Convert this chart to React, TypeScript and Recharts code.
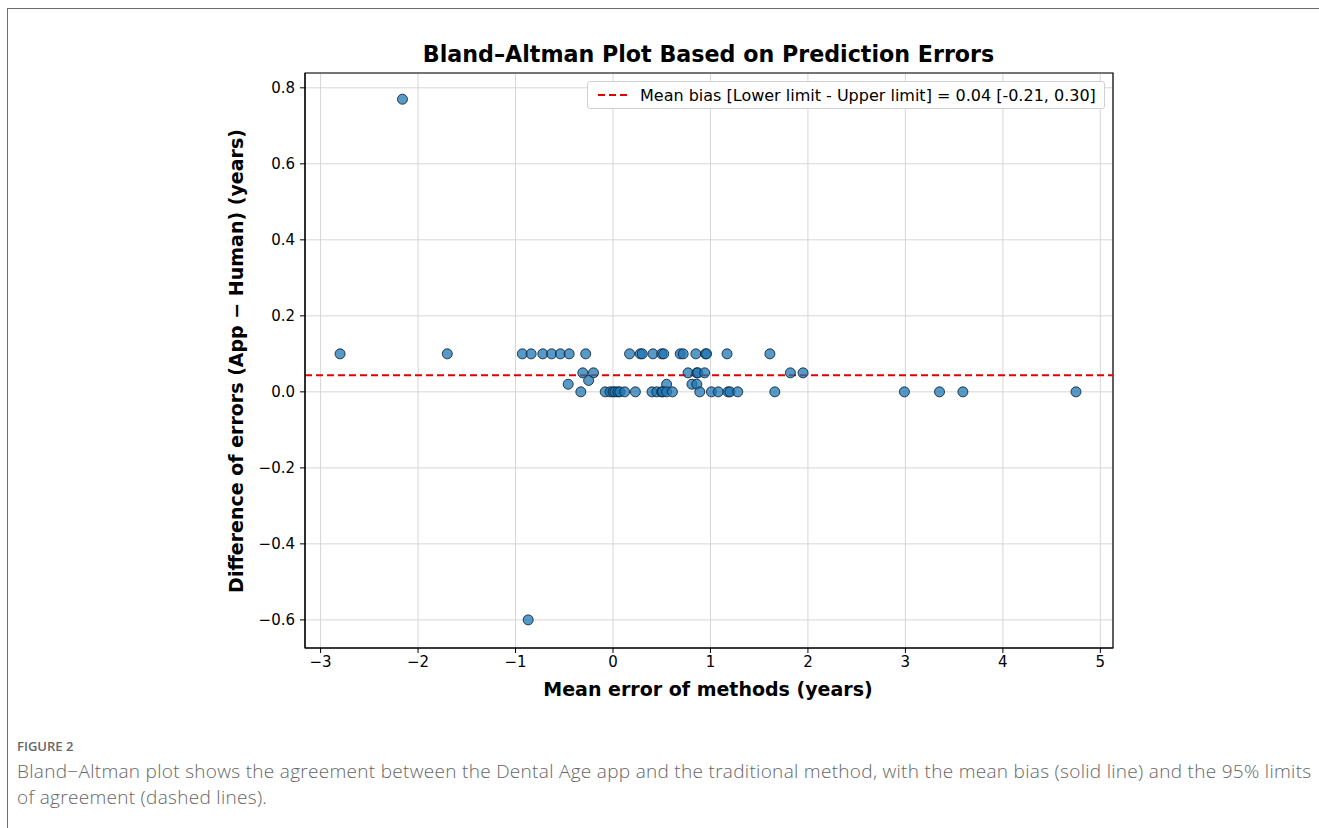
import React from "react";
import {
  ScatterChart,
  Scatter,
  XAxis,
  YAxis,
  CartesianGrid,
  ReferenceLine,
  ReferenceArea,
} from "recharts";

// mean of the two methods' errors (years)
const meanError = [
  -2.8, -2.16, -1.7, -0.87,
  -0.93, -0.84, -0.72, -0.63, -0.54, -0.45, -0.28, 0.17, 0.28, 0.3, 0.41, 0.5,
  0.52, 0.69, 0.72, 0.85, 0.95, 0.96, 1.17, 1.61,
  -0.31, -0.2, 0.77, 0.86, 0.87, 0.94, 1.82, 1.95,
  -0.46, -0.25, 0.55, 0.81, 0.86,
  -0.33, -0.08, -0.03, 0.0, 0.02, 0.05, 0.07, 0.12, 0.23, 0.4, 0.45, 0.5, 0.51,
  0.55, 0.61, 0.89, 1.01, 1.08, 1.18, 1.2, 1.28, 1.66, 2.99, 3.35, 3.59, 4.75,
];
// difference of errors, app - human (years)
const errorDiff = [
  0.1, 0.77, 0.1, -0.6,
  0.1, 0.1, 0.1, 0.1, 0.1, 0.1, 0.1, 0.1, 0.1, 0.1, 0.1, 0.1,
  0.1, 0.1, 0.1, 0.1, 0.1, 0.1, 0.1, 0.1,
  0.05, 0.05, 0.05, 0.05, 0.05, 0.05, 0.05, 0.05,
  0.02, 0.03, 0.02, 0.02, 0.02,
  0, 0, 0, 0, 0, 0, 0, 0, 0, 0, 0, 0, 0,
  0, 0, 0, 0, 0, 0, 0, 0, 0, 0, 0, 0, 0,
];
const meanBias = 0.044;
const xTicks = [-3, -2, -1, 0, 1, 2, 3, 4, 5];
const yTicks = [-0.6, -0.4, -0.2, 0, 0.2, 0.4, 0.6, 0.8];
const xDomain = [-3.16, 5.13];
const yDomain = [-0.674, 0.839];

const points = meanError.map((x, i) => ({ x, y: errorDiff[i] }));

const minus = (s: string) => s.replace("-", "\u2212");
const font = "'DejaVu Sans', sans-serif";

const Dot = (props: any) => (
  <circle
    cx={props.cx}
    cy={props.cy}
    r={5}
    fill="#1f77b4"
    fillOpacity={0.75}
    stroke="#0b2239"
    strokeOpacity={0.85}
    strokeWidth={1}
  />
);

export default function App() {
  return (
    <div
      style={{
        position: "absolute",
        left: 0,
        top: 0,
        width: 1319,
        height: 828,
        background: "#fff",
        overflow: "hidden",
      }}>
      <div
        style={{
          position: "absolute",
          left: 7,
          top: 8,
          width: 1330,
          height: 830,
          borderTop: "1.5px solid #6e6e6e",
          borderLeft: "1.5px solid #6e6e6e",
        }}
      />
      <div
        style={{
          position: "absolute",
          left: 0,
          width: 1319,
          top: 41,
          textAlign: "center",
          fontFamily: font,
          fontWeight: "bold",
          fontSize: 22.2,
          color: "#000",
          paddingLeft: 98,
          boxSizing: "border-box",
        }}>
        Bland–Altman Plot Based on Prediction Errors
      </div>
      <ScatterChart
        width={1319}
        height={720}
        margin={{ top: 73, right: 206, left: 245, bottom: 42 }}
        style={{ position: "absolute", left: 0, top: 0 }}>
        <CartesianGrid stroke="#d6d6d6" strokeWidth={1} />
        <XAxis
          type="number"
          dataKey="x"
          domain={xDomain}
          ticks={xTicks}
          allowDataOverflow
          height={30}
          tickSize={5}
          tickMargin={3}
          stroke="#000"
          tick={{ fill: "#000", fontSize: 15, fontFamily: font }}
          tickFormatter={(v: number) => minus(String(v))}
        />
        <YAxis
          type="number"
          dataKey="y"
          domain={yDomain}
          ticks={yTicks}
          allowDataOverflow
          width={60}
          tickSize={5}
          tickMargin={5}
          stroke="#000"
          tick={{ fill: "#000", fontSize: 15, fontFamily: font }}
          tickFormatter={(v: number) => minus(v.toFixed(1))}
        />
        <ReferenceArea
          x1={xDomain[0]}
          x2={xDomain[1]}
          y1={yDomain[0]}
          y2={yDomain[1]}
          fill="none"
          fillOpacity={0}
          stroke="#000"
          strokeWidth={1.2}
        />
        <Scatter data={points} shape={Dot} isAnimationActive={false} />
        <ReferenceLine
          y={meanBias}
          stroke="#e00000"
          strokeWidth={2}
          strokeDasharray="7 4"
        />
      </ScatterChart>
      <div
        style={{
          position: "absolute",
          left: 587,
          top: 81,
          width: 518,
          height: 28,
          border: "1px solid #d0d0d0",
          borderRadius: 3,
          background: "#fff",
          fontFamily: font,
          fontSize: 16,
          display: "flex",
          alignItems: "center",
          boxSizing: "border-box",
          whiteSpace: "nowrap",
        }}>
        <svg width={52} height={10} style={{ flex: "none" }}>
          <line
            x1={10}
            x2={43}
            y1={5}
            y2={5}
            stroke="#e00000"
            strokeWidth={2}
            strokeDasharray="7 4"
          />
        </svg>
        <span>Mean bias [Lower limit - Upper limit] = 0.04 [-0.21, 0.30]</span>
      </div>
      <div
        style={{
          position: "absolute",
          left: 236,
          top: 361,
          transform: "translate(-50%, -50%) rotate(-90deg)",
          whiteSpace: "nowrap",
          fontFamily: font,
          fontWeight: "bold",
          fontSize: 19,
        }}>
        Difference of errors (App − Human) (years)
      </div>
      <div
        style={{
          position: "absolute",
          left: 708,
          top: 689,
          transform: "translate(-50%, -50%)",
          whiteSpace: "nowrap",
          fontFamily: font,
          fontWeight: "bold",
          fontSize: 19,
        }}>
        Mean error of methods (years)
      </div>
      <div
        style={{
          position: "absolute",
          left: 17,
          top: 737,
          fontFamily: "'Open Sans', sans-serif",
          fontSize: 13,
          fontWeight: 600,
          color: "#666",
        }}>
        FIGURE 2
      </div>
      <div
        style={{
          position: "absolute",
          left: 17,
          top: 758,
          width: 1300,
          fontFamily: "'Open Sans', sans-serif",
          fontSize: 19,
          letterSpacing: 0.3,
          fontWeight: 300,
          lineHeight: "26px",
          color: "#666",
        }}>
        Bland−Altman plot shows the agreement between the Dental Age app and the
        traditional method, with the mean bias (solid line) and the 95% limits
        of agreement (dashed lines).
      </div>
    </div>
  );
}
